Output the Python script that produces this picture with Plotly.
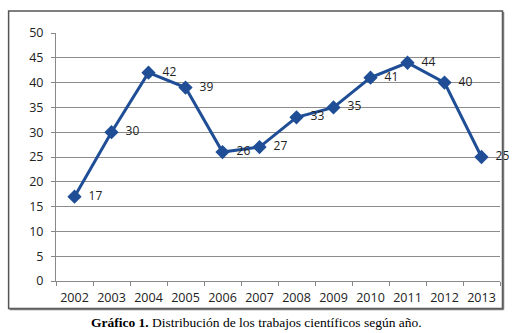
import plotly.graph_objects as go

years = ["2002","2003","2004","2005","2006","2007","2008","2009","2010","2011","2012","2013"]
values = [17, 30, 42, 39, 26, 27, 33, 35, 41, 44, 40, 25]
y_ticks = [0, 5, 10, 15, 20, 25, 30, 35, 40, 45, 50]

blue = "#1f4e96"
font_main = "Open Sans, DejaVu Sans"
fig = go.Figure()
fig.add_trace(go.Scatter(
    x=years, y=values, mode="lines+markers+text",
    line=dict(color=blue, width=3),
    marker=dict(symbol="diamond", size=11, color=blue),
    text=["  " + str(v) for v in values],
    textposition="middle right",
    textfont=dict(family=font_main, size=12, color="#222"),
    cliponaxis=False, showlegend=False,
))

L, R, T, B = 55.5, 500.5, 33, 281
W, H = 515, 333
pw, ph = R - L, B - T
def px(x):
    return (x - L) / pw
def py(y):
    return (B - y) / ph

fig.update_layout(
    width=W, height=H,
    margin=dict(l=L, r=W - R, t=T, b=H - B, autoexpand=False),
    paper_bgcolor="white", plot_bgcolor="white",
    xaxis=dict(type="category", showgrid=False, showline=True, linecolor="#888", linewidth=1,
               ticks="outside", tickson="boundaries", ticklen=4, tickcolor="#888",
               ticklabelstandoff=5, tickangle=0,
               tickfont=dict(family=font_main, size=12.5, color="#222"),
               range=[-0.5, 11.5]),
    yaxis=dict(range=[0, 50], tickvals=y_ticks, showgrid=True, gridcolor="#8c8c8c", gridwidth=1,
               showline=True, linecolor="#888", ticks="outside", ticklen=4, tickcolor="#888",
               ticklabelstandoff=5,
               tickfont=dict(family=font_main, size=12.5, color="#222"),
               zeroline=False),
    shapes=[
        dict(type="rect", xref="paper", yref="paper", x0=px(8), x1=px(503), y0=py(308.5), y1=py(11),
             line=dict(color="#555", width=1.5)),
        dict(type="line", xref="paper", yref="paper", x0=px(9), x1=px(504), y0=py(309.5), y1=py(309.5),
             line=dict(color="#777", width=1.5)),
        dict(type="line", xref="paper", yref="paper", x0=px(504), x1=px(504), y0=py(309.5), y1=py(12),
             line=dict(color="#777", width=1.5)),
    ],
    annotations=[dict(
        xref="paper", yref="paper", x=px(256), y=py(322), xanchor="center", yanchor="middle",
        showarrow=False,
        text="<b>Gráfico 1.</b> Distribución de los trabajos científicos según año.",
        font=dict(family="Liberation Serif, DejaVu Serif", size=13.5, color="#000"),
    )],
)
fig.write_html("out.html", config={"displayModeBar": False},
               post_script="document.body.style.margin='0';")
